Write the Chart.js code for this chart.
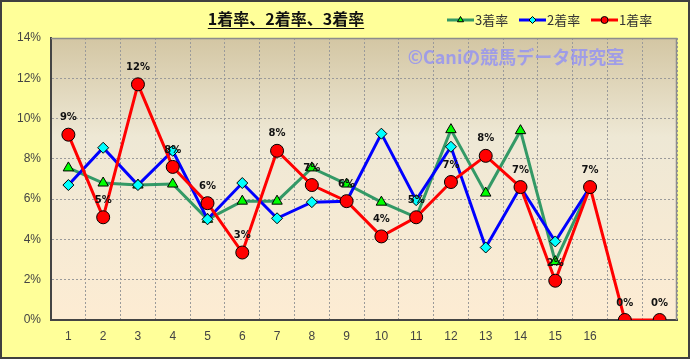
<!DOCTYPE html>
<html>
<head>
<meta charset="utf-8">
<script src="https://cdn.jsdelivr.net/npm/chart.js@4"></script>
<style>
  html, body { margin: 0; padding: 0; background: #ffff99; }
  #wrap { width: 690px; height: 359px; }
</style>
</head>
<body>
<div id="wrap"><canvas id="lineChart" width="690" height="359"></canvas></div>
<script>
var labels = ["1", "2", "3", "4", "5", "6", "7", "8", "9", "10", "11", "12", "13", "14", "15", "16", "", ""];
var rate1 = [9.2, 5.1, 11.7, 7.6, 5.8, 3.35, 8.4, 6.7, 5.9, 4.15, 5.1, 6.85, 8.15, 6.6, 1.95, 6.6, 0, 0];
var rate2 = [6.7, 8.55, 6.7, 8.4, 5.0, 6.8, 5.05, 5.85, 5.9, 9.25, 5.95, 8.6, 3.6, 6.6, 3.9, 6.6, null, null];
var rate3 = [7.55, 6.8, 6.7, 6.75, 5.0, 5.9, 5.9, 7.55, 6.75, 5.85, 5.1, 9.45, 6.3, 9.4, 2.9, 6.6, null, null];
var yTicks = [0, 2, 4, 6, 8, 10, 12, 14];

document.addEventListener("DOMContentLoaded", function() {
    var decor = {
        id: "decor",
        beforeDraw: function(chart) {
            var c = chart.ctx, a = chart.chartArea;
            c.save();
            c.fillStyle = "#ffff99";
            c.fillRect(0, 0, chart.width, chart.height);
            var g = c.createLinearGradient(0, a.top, 0, a.bottom);
            g.addColorStop(0, "#d3c6a3");
            g.addColorStop(0.35, "#eee8d5");
            g.addColorStop(1, "#fdecd3");
            c.fillStyle = g;
            c.fillRect(a.left, a.top, a.right - a.left, a.bottom - a.top);
            c.restore();
        },
        beforeDatasetsDraw: function(chart) {
            var c = chart.ctx, a = chart.chartArea;
            c.save();
            c.strokeStyle = "#8c8c8c";
            c.lineWidth = 1.5;
            c.beginPath();
            c.moveTo(a.left, a.top + 0.5);
            c.lineTo(a.right - 0.5, a.top + 0.5);
            c.lineTo(a.right - 0.5, a.bottom);
            c.stroke();
            // watermark
            c.font = "bold 18px 'Noto Sans CJK JP'";
            c.fillStyle = "rgba(140,140,250,0.75)";
            c.textAlign = "center";
            c.textBaseline = "middle";
            c.fillText("©Caniの競馬データ研究室", 516, 57);
            c.restore();
        },
        afterDraw: function(chart) {
            var c = chart.ctx;
            c.save();
            // data labels for 1着率
            var meta = chart.getDatasetMeta(0);
            c.font = "bold 10px 'DejaVu Sans'";
            c.fillStyle = "#111";
            c.textAlign = "center";
            c.textBaseline = "middle";
            meta.data.forEach(function(pt, i) {
                c.fillText(Math.round(rate1[i]) + "%", pt.x, pt.y - 17);
            });
            // title
            c.font = "bold 16px 'Noto Sans CJK JP'";
            c.fillStyle = "#111";
            var t = "1着率、2着率、3着率";
            var w = c.measureText(t).width;
            c.fillText(t, 286, 19);
            c.strokeStyle = "#111";
            c.lineWidth = 1;
            c.beginPath();
            c.moveTo(286 - w / 2, 28.5);
            c.lineTo(286 + w / 2, 28.5);
            c.stroke();
            // legend
            var items = [
                { x: 447, text: "3着率", color: "#339966", style: "triangle", fill: "#00ff00" },
                { x: 519, text: "2着率", color: "#0000ff", style: "rectRot", fill: "#00ffff" },
                { x: 591, text: "1着率", color: "#ff0000", style: "circle", fill: "#ff0000" }
            ];
            items.forEach(function(it) {
                c.strokeStyle = it.color;
                c.lineWidth = 3;
                c.beginPath();
                c.moveTo(it.x, 20);
                c.lineTo(it.x + 27, 20);
                c.stroke();
                c.fillStyle = it.fill;
                c.strokeStyle = "#000";
                c.lineWidth = 1;
                Chart.helpers.drawPoint(c, { pointStyle: it.style, radius: 3.5, borderWidth: 1 }, it.x + 13.5, 20);
                c.fillStyle = "#333";
                c.font = "13px 'Noto Sans CJK JP'";
                c.textAlign = "left";
                c.fillText(it.text, it.x + 28, 20);
            });
            // outer border
            c.strokeStyle = "#404040";
            c.lineWidth = 2;
            c.strokeRect(1, 1, chart.width - 2, chart.height - 2);
            c.restore();
        }
    };

    var ctx1 = document.getElementById("lineChart").getContext("2d");
    new Chart(ctx1, {
        type: "line",
        data: {
            labels: labels,
            datasets: [{
                label: "1着率",
                data: rate1,
                borderColor: "#ff0000",
                borderWidth: 3,
                pointStyle: "circle",
                pointRadius: 6.5,
                pointBackgroundColor: "#ff0000",
                pointBorderColor: "#000",
                pointBorderWidth: 1,
                fill: false,
                tension: 0
            }, {
                label: "2着率",
                data: rate2,
                borderColor: "#0000ff",
                borderWidth: 3,
                pointStyle: "rectRot",
                pointRadius: 5.5,
                pointBackgroundColor: "#00ffff",
                pointBorderColor: "#000",
                pointBorderWidth: 1,
                fill: false,
                tension: 0
            }, {
                label: "3着率",
                data: rate3,
                borderColor: "#339966",
                borderWidth: 3,
                pointStyle: "triangle",
                pointRadius: 6,
                pointBackgroundColor: "#00ff00",
                pointBorderColor: "#000",
                pointBorderWidth: 1,
                fill: false,
                tension: 0
            }]
        },
        options: {
            responsive: false,
            animation: false,
            layout: { padding: { left: 0, top: 38, right: 13, bottom: 0 } },
            plugins: {
                legend: { display: false },
                title: { display: false },
                tooltip: { enabled: false }
            },
            scales: {
                x: {
                    offset: true,
                    grid: { offset: true, color: "#9a9a9a", drawTicks: false, tickBorderDash: [2, 2] },
                    border: { color: "#444", width: 2, dash: [2, 2] },
                    ticks: { color: "#444", font: { family: "Liberation Sans", size: 12 }, padding: 9, maxRotation: 0, autoSkip: false },
                    afterFit: function(s) { s.height = 39; }
                },
                y: {
                    min: 0,
                    max: 14,
                    afterBuildTicks: function(s) { s.ticks = yTicks.map(function(v) { return { value: v }; }); },
                    grid: { color: "#9a9a9a", drawTicks: false },
                    border: { color: "#444", width: 2, dash: [2, 2] },
                    ticks: {
                        color: "#444",
                        font: { family: "Liberation Sans", size: 12 },
                        padding: 10,
                        callback: function(v) { return v + "%"; }
                    },
                    afterFit: function(s) { s.width = 51; }
                }
            }
        },
        plugins: [decor]
    });
});
</script>
</body>
</html>
